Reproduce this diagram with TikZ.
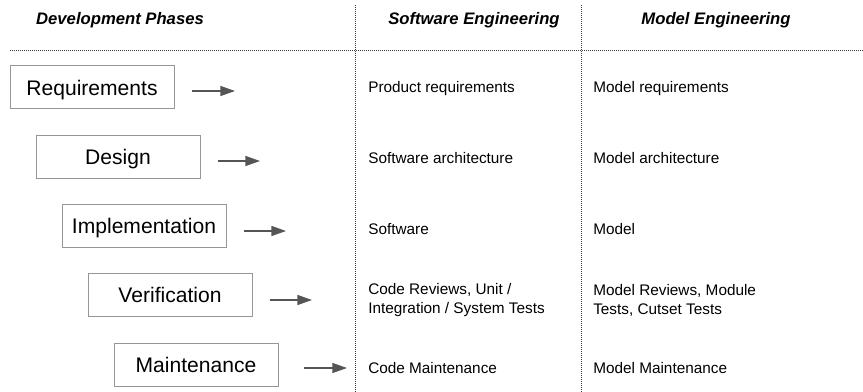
\documentclass[tikz,border=0pt]{standalone}
\usepackage{fontspec}
\setmainfont{Liberation Sans}
\usetikzlibrary{arrows.meta,positioning}
\definecolor{boxline}{RGB}{150,150,150}
\definecolor{arrowgray}{RGB}{85,85,85}
\definecolor{dotgray}{RGB}{60,60,60}

\begin{document}
\begin{tikzpicture}[x=0.75pt, y=-0.75pt,
      phase/.style={draw=boxline, line width=0.75pt,
                    minimum width=123pt, minimum height=32.25pt,
                    inner sep=0pt, text height=11.3pt, text depth=0pt,
                    font=\fontsize{15.8}{18}\selectfont},
      head/.style={font=\fontsize{12.5}{15}\selectfont\bfseries\itshape},
      cell/.style={anchor=west, align=left, inner sep=0pt,
                   font=\fontsize{11.5}{14.25}\selectfont},
      flow/.style={draw=arrowgray, line width=1pt,
                   -{Triangle[length=11pt,width=7.5pt]}},
      sep/.style={draw=dotgray, line width=0.6pt,
                  dash pattern=on 0.75pt off 0.75pt}]
    \useasboundingbox (0,0) rectangle (863,392);

    % column headers and separators
    \node[head] (hphase) at (120,20) {Development Phases};
    \node[head] (hsoft) at (474,20) {Software Engineering};
    \node[head] (hmodel) at (716,20) {Model Engineering};
    \draw[sep] (10,50) -- (863,50);
    \draw[sep] (355,5) -- (355,392);
    \draw[sep] (581,5) -- (581,392);

    % phases
    \node[phase] (req) at (92,87.5) {Requirements};
    \node[phase] (des) at (118,157) {Design};
    \node[phase] (imp) at (144,226) {Implementation};
    \node[phase] (ver) at (170,295) {Verification};
    \node[phase] (mnt) at (196,364.5) {Maintenance};

    \coordinate (reqtip) at (235,91);
    \coordinate (destip) at (260,161);
    \coordinate (imptip) at (286,231);
    \coordinate (vertip) at (312,300);
    \coordinate (mnttip) at (347,368);

    \draw[flow] (req.east) ++(17,3.5) -- (reqtip);
    \draw[flow] (des.east) ++(17,4) -- (destip);
    \draw[flow] (imp.east) ++(17,5) -- (imptip);
    \draw[flow] (ver.east) ++(17,5) -- (vertip);
    \draw[flow] (mnt.east) ++(25,3.5) -- (mnttip);

    % software engineering
    \node[cell] (sreq) at (368,89) {Product requirements};
    \node[cell] (sdes) at (368,158) {Software architecture};
    \node[cell] (simp) at (368,229) {Software};
    \node[cell] (sver) at (368,300) {Code Reviews, Unit /\\Integration / System Tests};
    \node[cell] (smnt) at (368,368) {Code Maintenance};

    % model engineering
    \node[cell] (mreq) at (593,89) {Model requirements};
    \node[cell] (mdes) at (593,158) {Model architecture};
    \node[cell] (mimp) at (593,229) {Model};
    \node[cell] (mver) at (593,300) {Model Reviews, Module\\Tests, Cutset Tests};
    \node[cell] (mmnt) at (593,368) {Model Maintenance};
  \end{tikzpicture}
\end{document}
